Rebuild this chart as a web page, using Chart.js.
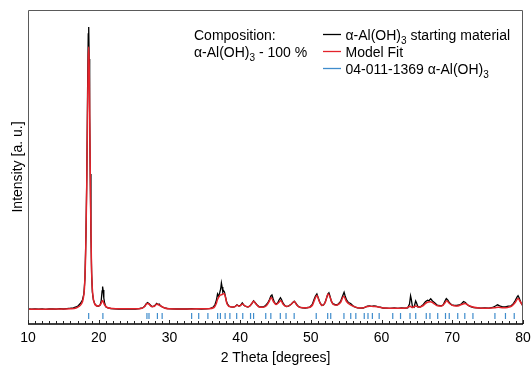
<!DOCTYPE html>
<html>
<head>
<meta charset="utf-8">
<script src="https://cdn.jsdelivr.net/npm/chart.js@4.4.1/dist/chart.umd.min.js"></script>
<style>
  html, body { margin: 0; padding: 0; background: #fff; }
</style>
</head>
<body>
<canvas id="xrdChart" width="531" height="370"></canvas>
<script>
// 2 theta / intensity pairs (arbitrary units)
const observed = [
  [10,150],[10.5,148],[11,152],[11.5,149],[12,151],[12.5,147],[13,150],[13.5,152],[14,149],[14.5,153],
  [15,150],[15.5,154],[16,158],[16.4,162],[16.8,170],[17.1,182],[17.4,205],[17.7,240],[17.9,300],[18.05,450],
  [18.2,900],[18.32,1500],[18.42,2300],[18.52,2900],[18.57,2970],[18.6,2970],[18.65,2650],[18.72,2100],[18.8,1500],[18.9,900],
  [19.0,500],[19.1,320],[19.25,240],[19.45,200],[19.7,182],[19.95,178],[20.2,190],[20.35,230],[20.48,330],[20.55,375],
  [20.62,340],[20.72,260],[20.85,205],[21.0,172],[21.3,160],[21.7,155],[22.2,152],[22.8,150],[23.4,152],[24,149],
  [24.6,151],[25.2,150],[25.8,155],[26.2,160],[26.5,178],[26.7,200],[26.9,215],[27.1,205],[27.3,190],[27.55,172],
  [27.8,178],[28.0,190],[28.2,205],[28.35,195],[28.55,200],[28.75,182],[29.0,170],[29.3,160],[29.7,155],[30.2,152],
  [31,150],[31.8,151],[32.5,150],[33.2,154],[33.8,151],[34.5,150],[35.2,152],[35.8,156],[36.2,168],[36.45,195],
  [36.65,240],[36.8,300],[36.95,275],[37.1,310],[37.25,350],[37.35,410],[37.45,370],[37.55,320],[37.65,335],[37.78,320],
  [37.9,280],[38.05,230],[38.2,200],[38.4,180],[38.7,172],[39.0,168],[39.3,175],[39.55,192],[39.8,180],[40.05,185],
  [40.3,210],[40.5,190],[40.8,175],[41.1,170],[41.4,182],[41.65,205],[41.9,232],[42.1,215],[42.4,190],[42.7,172],
  [43.0,170],[43.3,172],[43.6,185],[43.9,210],[44.15,245],[44.35,280],[44.5,290],[44.65,255],[44.85,215],[45.05,200],
  [45.3,210],[45.5,240],[45.7,262],[45.85,245],[46.05,210],[46.3,185],[46.6,175],[46.9,182],[47.2,198],[47.45,215],
  [47.65,228],[47.85,210],[48.1,185],[48.4,168],[48.8,162],[49.2,160],[49.6,165],[49.9,172],[50.2,195],[50.45,245],
  [50.65,280],[50.85,300],[51.05,260],[51.3,210],[51.55,185],[51.8,190],[52.0,215],[52.2,255],[52.4,300],[52.55,312],
  [52.7,280],[52.9,225],[53.15,200],[53.4,195],[53.7,190],[53.95,205],[54.2,225],[54.4,262],[54.6,300],[54.7,318],
  [54.85,280],[55.05,240],[55.3,215],[55.5,210],[55.7,200],[55.9,185],[56.2,172],[56.6,162],[57.0,158],[57.4,160],
  [57.7,168],[58.0,178],[58.3,182],[58.6,176],[58.9,182],[59.2,178],[59.5,172],[59.8,168],[60.2,160],[60.7,158],
  [61.2,156],[61.8,160],[62.3,157],[62.8,160],[63.3,158],[63.7,162],[63.95,200],[64.1,282],[64.2,250],[64.35,180],
  [64.6,168],[64.82,230],[64.95,210],[65.15,170],[65.5,172],[65.9,195],[66.2,222],[66.5,238],[66.7,232],[66.95,252],
  [67.2,230],[67.5,212],[67.8,192],[68.1,185],[68.4,182],[68.7,190],[68.95,228],[69.15,255],[69.35,240],[69.6,212],
  [69.9,192],[70.2,188],[70.6,185],[71.0,190],[71.3,202],[71.6,225],[71.85,215],[72.1,195],[72.5,175],[73.0,165],
  [73.5,162],[74.0,158],[74.6,160],[75.2,158],[75.7,165],[76.1,180],[76.4,192],[76.7,182],[77.1,172],[77.5,170],
  [77.9,178],[78.3,182],[78.6,200],[78.9,235],[79.15,268],[79.3,282],[79.45,262],[79.7,215],[80.0,178]
];

const modelFit = [
  [10,148],[12,148],[14,149],[15,150],[16,152],[16.8,160],[17.2,175],[17.5,195],[17.8,250],[18.0,380],
  [18.15,700],[18.3,1350],[18.42,2100],[18.52,2650],[18.58,2770],[18.65,2600],[18.75,1900],[18.85,1200],[18.97,600],[19.1,350],
  [19.3,230],[19.6,185],[20.0,180],[20.3,200],[20.55,235],[20.8,195],[21.2,165],[22,155],[24,152],[26,155],
  [26.5,175],[26.85,205],[27.1,200],[27.4,178],[27.8,175],[28.25,200],[28.5,190],[28.9,175],[29.4,158],[30,152],
  [32,150],[34,152],[35.5,153],[36.3,165],[36.6,200],[36.8,245],[37.1,283],[37.45,295],[37.75,305],[38.15,200],
  [38.6,172],[39.2,170],[39.55,188],[39.9,178],[40.35,200],[40.7,178],[41.2,172],[41.6,200],[41.9,228],[42.3,195],
  [42.7,170],[43.2,168],[43.7,182],[44.1,225],[44.4,265],[44.7,225],[45.1,195],[45.5,218],[45.75,235],[46.1,195],
  [46.6,175],[47.2,195],[47.65,225],[48.0,190],[48.5,165],[49.5,162],[50.2,185],[50.55,245],[50.85,285],[51.2,225],
  [51.6,185],[52.0,210],[52.45,300],[52.75,260],[53.1,200],[53.6,188],[54.2,215],[54.65,278],[55.0,230],[55.5,195],
  [56.0,178],[56.6,162],[57.3,160],[57.8,172],[58.3,178],[58.8,175],[59.4,172],[60,162],[61,158],[62.5,158],
  [63.5,160],[64.05,178],[64.3,165],[64.85,180],[65.3,168],[65.9,185],[66.4,215],[66.9,222],[67.3,210],[67.9,182],
  [68.5,180],[68.9,205],[69.2,232],[69.6,205],[70.2,182],[70.8,180],[71.3,195],[71.8,205],[72.3,185],[72.9,170],
  [73.8,160],[75,158],[76,162],[76.5,168],[77.2,162],[77.8,165],[78.4,178],[78.9,215],[79.3,255],[79.6,225],[80,180]
];

// reference pattern 04-011-1369, 2 theta positions of the tick marks
const reflections = [
  18.58, 20.59, 26.82, 27.11, 28.30, 28.97, 33.14, 34.14, 35.44, 36.82,
  37.21, 37.88, 38.55, 39.51, 40.37, 41.47, 41.90, 43.62, 44.34, 45.68,
  46.49, 47.64, 50.76, 52.38, 52.81, 54.68, 55.64, 56.36, 57.55, 58.08,
  58.70, 59.66, 61.58, 62.68, 64.02, 64.83, 66.32, 66.84, 67.94, 69.04,
  69.57, 70.77, 71.77, 72.92, 76.03, 77.52, 78.76
];
const reflectionLevel = 80;

const xTicks = [10, 20, 30, 40, 50, 60, 70, 80];
const xRange = [10, 80];
const yRange = [0, 3140];

const seriesColors = { observed: '#000000', fit: '#e3232b', ref: '#3f8ccc' };
const FONT = "'Liberation Sans', Arial, Helvetica, sans-serif";

Chart.defaults.font.family = FONT;
Chart.defaults.font.size = 14;
Chart.defaults.color = '#000';

// frame, inward minor ticks on x and the text legend
const framePlugin = {
  id: 'frame',
  afterDraw(chart) {
    const { ctx, chartArea: a } = chart;
    const xs = chart.scales.x;
    ctx.save();
    ctx.strokeStyle = '#5a5a5a';
    ctx.lineWidth = 1;
    ctx.beginPath();
    ctx.moveTo(a.left + 0.5, a.bottom);
    ctx.lineTo(a.left + 0.5, a.top + 0.5);
    ctx.lineTo(a.right - 0.5, a.top + 0.5);
    ctx.lineTo(a.right - 0.5, a.bottom);
    ctx.stroke();

    ctx.strokeStyle = '#000';
    ctx.lineWidth = 1.5;
    ctx.beginPath();
    ctx.moveTo(a.left, a.bottom);
    ctx.lineTo(a.right, a.bottom);
    ctx.stroke();

    ctx.lineWidth = 1;
    ctx.strokeStyle = '#222';
    for (let v = xRange[0]; v <= xRange[1]; v++) {
      const px = Math.round(xs.getPixelForValue(v)) + 0.5;
      const len = v % 10 === 0 ? 4 : 3;
      ctx.beginPath();
      ctx.moveTo(px, a.bottom);
      ctx.lineTo(px, a.bottom - len);
      ctx.stroke();
    }
    ctx.restore();
  }
};

function drawRich(ctx, parts, x, y) {
  let cx = x;
  parts.forEach(function (p) {
    const sub = p[1];
    ctx.font = (sub ? '10px ' : '14px ') + FONT;
    ctx.fillText(p[0], cx, sub ? y + 4 : y);
    cx += ctx.measureText(p[0]).width;
  });
}

const legendPlugin = {
  id: 'textLegend',
  afterDraw(chart) {
    const ctx = chart.ctx;
    ctx.save();
    ctx.fillStyle = '#000';
    ctx.textBaseline = 'alphabetic';
    ctx.textAlign = 'left';

    drawRich(ctx, [['Composition:', false]], 194, 39.5);
    drawRich(ctx, [['\u03b1-Al(OH)', false], ['3', true], [' - 100 %', false]], 194, 56.5);

    const rows = [
      { color: seriesColors.observed, parts: [['\u03b1-Al(OH)', false], ['3', true], [' starting material', false]] },
      { color: seriesColors.fit, parts: [['Model Fit', false]] },
      { color: seriesColors.ref, parts: [['04-011-1369 \u03b1-Al(OH)', false], ['3', true]] }
    ];
    rows.forEach(function (r, i) {
      const by = 39.5 + i * 17;
      ctx.strokeStyle = r.color;
      ctx.lineWidth = 1.3;
      ctx.beginPath();
      ctx.moveTo(323, by - 5);
      ctx.lineTo(341, by - 5);
      ctx.stroke();
      drawRich(ctx, r.parts, 345.5, by);
    });
    ctx.restore();
  }
};

const toPoints = pairs => pairs.map(p => ({ x: p[0], y: p[1] }));

new Chart(document.getElementById('xrdChart'), {
  type: 'line',
  data: {
    datasets: [{
      label: 'α-Al(OH)3 starting material',
      data: toPoints(observed),
      borderColor: seriesColors.observed,
      borderWidth: 1.3,
      pointRadius: 0,
      tension: 0,
      order: 3
    }, {
      label: 'Model Fit',
      data: toPoints(modelFit),
      borderColor: seriesColors.fit,
      borderWidth: 1.5,
      pointRadius: 0,
      cubicInterpolationMode: 'monotone',
      order: 2
    }, {
      label: '04-011-1369 α-Al(OH)3',
      data: reflections.map(v => ({ x: v, y: reflectionLevel })),
      showLine: false,
      pointStyle: 'line',
      rotation: 90,
      pointRadius: 3,
      borderWidth: 1.2,
      borderColor: seriesColors.ref,
      backgroundColor: seriesColors.ref,
      order: 1
    }]
  },
  options: {
    responsive: false,
    animation: false,
    devicePixelRatio: 1,
    layout: { padding: { top: 10, right: 0, left: 7.3, bottom: 0 } },
    plugins: {
      legend: { display: false },
      tooltip: { enabled: false }
    },
    scales: {
      x: {
        type: 'linear',
        min: xRange[0],
        max: xRange[1],
        afterBuildTicks: scale => { scale.ticks = xTicks.map(v => ({ value: v })); },
        // pin the axis box so the plot area lands where the original has it
        afterFit: scale => {
          scale.height = 46;
          scale.paddingRight = 8;
          scale.paddingLeft = 8;
        },
        ticks: { padding: 6, font: { size: 14 }, color: '#000' },
        grid: { display: false, drawTicks: false },
        border: { display: false },
        title: {
          display: true,
          text: '2 Theta [degrees]',
          font: { size: 14 },
          color: '#000',
          padding: { top: 3, bottom: 3 }
        }
      },
      y: {
        min: yRange[0],
        max: yRange[1],
        ticks: { display: false },
        grid: { display: false, drawTicks: false },
        border: { display: false },
        title: {
          display: true,
          text: 'Intensity [a. u.]',
          font: { size: 14 },
          color: '#000',
          padding: { top: 2, bottom: 1.9 }
        }
      }
    }
  },
  plugins: [framePlugin, legendPlugin]
});
</script>
</body>
</html>
